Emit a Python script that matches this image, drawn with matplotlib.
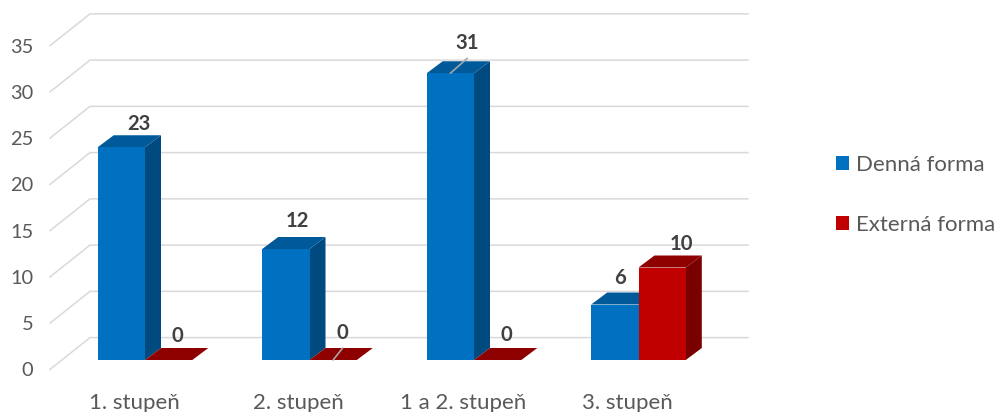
import numpy as np
import matplotlib
matplotlib.use("Agg")
import matplotlib.pyplot as plt
from matplotlib.patches import Polygon, Rectangle, Patch

categories = ["1. stupeň", "2. stupeň", "1 a 2. stupeň", "3. stupeň"]
denna = [23, 12, 31, 6]
externa = [0, 0, 0, 10]
series_names = ["Denná forma", "Externá forma"]
y_ticks = [0, 5, 10, 15, 20, 25, 30, 35]

# label offsets in pixels (dx from bar centre, dy above the front top edge)
denna_offsets = [(18, 23), (12, 28), (17, 30), (5, 26)]
externa_offsets = [(9, 24), (9.5, 27), (9, 25), (19, 24)]

W, H = 996, 412
PX_X, PX_Y = 164.5, 9.25   # pixels per x unit / y unit
X0, Y0 = 145, 360          # pixel position of data origin
L, R, T, B = 50, 748, 14, 369.4

plt.rcParams["font.family"] = ["Lato", "DejaVu Sans"]
fig = plt.figure(figsize=(W / 100, H / 100), dpi=100)
ax = fig.add_axes([L / W, 1 - B / H, (R - L) / W, (B - T) / H])
ax.set_xlim((L - X0) / PX_X, (R - X0) / PX_X)
ax.set_ylim((Y0 - B) / PX_Y, (Y0 - T) / PX_Y)
for s in ax.spines.values():
    s.set_visible(False)

bar_w = 47.3 / PX_X
dep_x, dep_y = 16 / PX_X, 12 / PX_Y
front_y = (Y0 - B) / PX_Y
back_y = 22.4 / PX_Y
back_x = (90 - X0) / PX_X
left_x = (L - X0) / PX_X
right_x = (R - X0) / PX_X

GRID = "#D9D9D9"
for v in y_ticks:
    ax.plot([left_x, back_x, right_x],
            [v + front_y, v + back_y, v + back_y],
            color=GRID, lw=1.1, zorder=1, clip_on=False, solid_joinstyle="miter")


def bar3d(x, v, front, top, side, z):
    if v > 0:
        ax.add_patch(Rectangle((x, 0), bar_w, v, fc=front, ec="none", zorder=z + 0.1))
        ax.add_patch(Polygon([(x + bar_w, 0), (x + bar_w + dep_x, dep_y),
                              (x + bar_w + dep_x, v + dep_y), (x + bar_w, v)],
                             fc=side, ec="none", zorder=z))
    ax.add_patch(Polygon([(x, v), (x + bar_w, v), (x + bar_w + dep_x, v + dep_y),
                          (x + dep_x, v + dep_y)], fc=top, ec="none", zorder=z))


LAB = dict(fontsize=14.6, fontweight="bold", color="#404040", ha="center",
           va="center", zorder=10)
idx = np.arange(len(categories))
for i in idx:
    xb, xr = i - bar_w, i
    bar3d(xb, denna[i], "#0070C0", "#005A9A", "#004A80", 3)
    bar3d(xr, externa[i], "#C00000", "#8E0000", "#7A0000", 4)
    for x, v, off in ((xb, denna[i], denna_offsets[i]), (xr, externa[i], externa_offsets[i])):
        ax.annotate(str(v), (x + bar_w / 2, v), xytext=off,
                    textcoords="offset pixels", **LAB)

# leader lines
for x, v, off in ((2 - bar_w / 2, denna[2], (17, 15)), (1 + bar_w / 2, externa[1], (9.5, 12))):
    ax.annotate("", (x, v), xytext=off, textcoords="offset pixels", zorder=9,
                arrowprops=dict(arrowstyle="-", color="#A6A6A6", lw=1.2,
                                shrinkA=0, shrinkB=0))

ax.set_yticks(np.array(y_ticks) + front_y, [str(t) for t in y_ticks])
ax.set_xticks(idx - 11 / PX_X, categories)
ax.tick_params(axis="y", length=0, pad=12, labelsize=14.4, labelcolor="#595959")
ax.tick_params(axis="x", length=0, pad=17, labelsize=16, labelcolor="#595959")

handles = [Patch(fc="#0070C0", ec="none"), Patch(fc="#C00000", ec="none")]
fig.legend(handles, series_names, loc="upper left",
           bbox_to_anchor=(836 / W, 1 - 155 / H), bbox_transform=fig.transFigure,
           frameon=False, fontsize=16, labelcolor="#595959", borderaxespad=0,
           borderpad=0, handlelength=0.59, handleheight=0.59, handletextpad=0.3,
           labelspacing=1.78)

fig.savefig("out.png", dpi=100)
